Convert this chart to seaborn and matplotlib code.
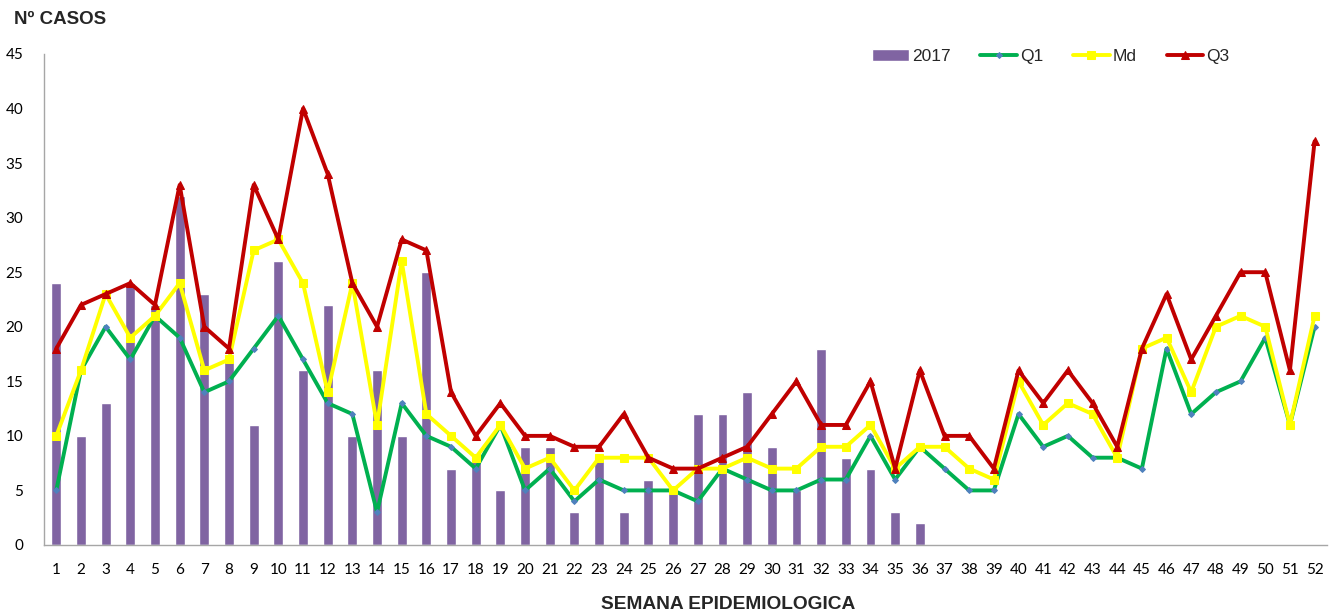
import numpy as np
import pandas as pd
import seaborn as sns
import matplotlib.pyplot as plt
from matplotlib.ticker import MultipleLocator, FixedLocator

semanas = list(range(1, 53))

casos_2017 = [24, 10, 13, 24, 22, 32, 23, 17, 11, 26, 16, 22, 10, 16, 10, 25, 7, 8,
              5, 9, 9, 3, 8, 3, 6, 5, 12, 12, 14, 9, 5, 18, 8, 7, 3, 2]

q1 = [5, 16, 20, 17, 21, 19, 14, 15, 18, 21, 17, 13, 12, 3, 13, 10, 9, 7, 11, 5,
      7, 4, 6, 5, 5, 5, 4, 7, 6, 5, 5, 6, 6, 10, 6, 9, 7, 5, 5, 12, 9, 10, 8, 8,
      7, 18, 12, 14, 15, 19, 11, 20]

md = [10, 16, 23, 19, 21, 24, 16, 17, 27, 28, 24, 14, 24, 11, 26, 12, 10, 8, 11, 7,
      8, 5, 8, 8, 8, 5, 7, 7, 8, 7, 7, 9, 9, 11, 7, 9, 9, 7, 6, 15, 11, 13, 12, 8,
      18, 19, 14, 20, 21, 20, 11, 21]

q3 = [18, 22, 23, 24, 22, 33, 20, 18, 33, 28, 40, 34, 24, 20, 28, 27, 14, 10, 13, 10,
      10, 9, 9, 12, 8, 7, 7, 8, 9, 12, 15, 11, 11, 15, 7, 16, 10, 10, 7, 16, 13, 16,
      13, 9, 18, 23, 17, 21, 25, 25, 16, 37]

bar_color = "#8064A2"
q1_color = "#00B050"
md_color = "#FFFF00"
q3_color = "#C00000"
axis_gray = "#A6A6A6"

sns.set_theme(style="white")
plt.rcParams["font.family"] = ["Liberation Sans", "DejaVu Sans"]

df_bar = pd.DataFrame({"semana": semanas[:len(casos_2017)], "casos": casos_2017})

fig = plt.figure(figsize=(13.44, 6.12), dpi=100)
ax = fig.add_axes([0.0327, 0.1095, 0.9546, 0.8023])

sns.barplot(data=df_bar, x="semana", y="casos", order=semanas, color=bar_color,
            saturation=1, width=0.4, ax=ax, label="2017")

pos = np.arange(len(semanas))
sns.lineplot(x=pos, y=q1, color=q1_color, lw=2.8, marker="D", markersize=3,
             markerfacecolor="#4F81BD", markeredgecolor="#4F81BD", ax=ax, label="Q1")
sns.lineplot(x=pos, y=md, color=md_color, lw=2.8, marker="s", markersize=6,
             markeredgecolor=md_color, ax=ax, label="Md")
sns.lineplot(x=pos, y=q3, color=q3_color, lw=2.8, marker="^", markersize=6,
             markeredgecolor=q3_color, ax=ax, label="Q3")

ax.set_xlim(-0.5, len(semanas) - 0.5)
ax.set_ylim(0, 45)
ax.yaxis.set_major_locator(MultipleLocator(5))

ax.set_xticks(pos)
ax.set_xticklabels([str(s) for s in semanas])
ax.xaxis.set_minor_locator(FixedLocator(np.arange(-0.5, len(semanas), 1.0)))
ax.tick_params(axis="x", which="major", length=0, labelsize=11, pad=13, colors="black")
ax.tick_params(axis="x", which="minor", length=5, width=1, color=axis_gray, direction="out")
ax.tick_params(axis="y", which="major", length=5, width=1, color=axis_gray,
               direction="out", labelsize=11, labelcolor="black", pad=10)
for lab in ax.get_xticklabels() + ax.get_yticklabels():
    lab.set_family(["Lato", "DejaVu Sans"])

for side in ["top", "right"]:
    ax.spines[side].set_visible(False)
for side in ["left", "bottom"]:
    ax.spines[side].set_color(axis_gray)
    ax.spines[side].set_linewidth(1)

ax.set_xlabel("")
ax.set_ylabel("")
fig.text(0.0105, 0.968, "Nº CASOS", fontsize=13.5, fontweight="bold", va="center", ha="left")
fig.text(0.5415, 0.012, "SEMANA EPIDEMIOLOGICA", fontsize=13.8, fontweight="bold",
         va="center", ha="center")

handles, labels = ax.get_legend_handles_labels()
order = [labels.index(l) for l in ["2017", "Q1", "Md", "Q3"]]
ax.legend([handles[i] for i in order], [labels[i] for i in order], ncol=4,
          frameon=False, fontsize=12.5, loc="center", bbox_to_anchor=(0.782, 0.907),
          bbox_transform=fig.transFigure, handlelength=2.1, columnspacing=1.7,
          handletextpad=0.2)

fig.savefig("out.png", dpi=100)
plt.close(fig)
